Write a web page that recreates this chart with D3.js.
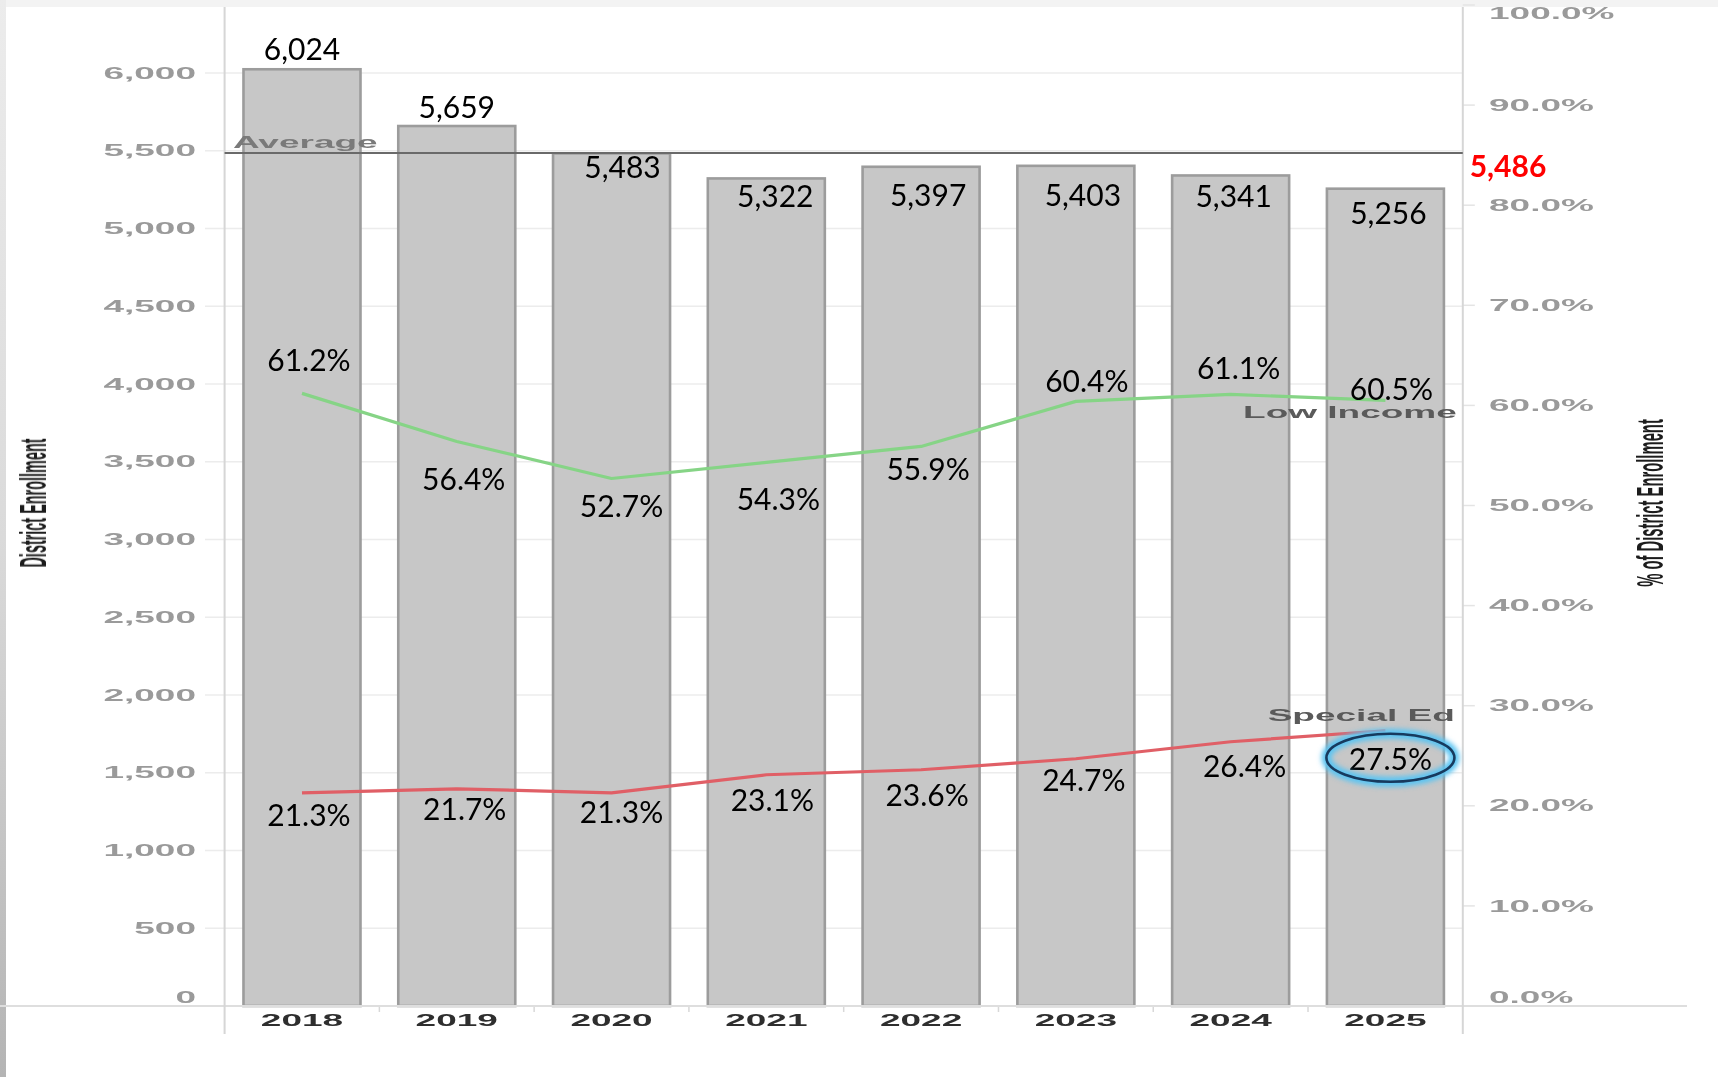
<!DOCTYPE html>
<html>
<head>
<meta charset="utf-8">
<script src="https://cdn.jsdelivr.net/npm/d3@7"></script>
<style>
  html, body { margin: 0; padding: 0; background: #fff; }
  svg { display: block; }
</style>
</head>
<body>
<script>
// ---- data ----
const years = ["2018", "2019", "2020", "2021", "2022", "2023", "2024", "2025"];
const enrollment = [6024, 5659, 5483, 5322, 5397, 5403, 5341, 5256];
const lowIncome = [61.2, 56.4, 52.7, 54.3, 55.9, 60.4, 61.1, 60.5];
const specialEd = [21.3, 21.7, 21.3, 23.1, 23.6, 24.7, 26.4, 27.5];
const averageEnrollment = 5486;
const enrollmentTicks = [0, 500, 1000, 1500, 2000, 2500, 3000, 3500, 4000, 4500, 5000, 5500, 6000];
const percentTicks = [0, 10, 20, 30, 40, 50, 60, 70, 80, 90, 100];

// ---- label nudges (px) relative to each mark ----
const barLabelDx = [0, 0, 11, 9, 7, 7, 3, 3];
const barLabelDy = [-21, -20, 13, 17, 27, 28, 20, 23];
const lowLabelDx = [7, 7, 10, 12, 7, 11, 8, 6];
const lowLabelDy = [-34, 37, 27, 36, 22, -21, -27, -12];
const spedLabelDx = [7, 8, 10, 6, 6, 8, 14, 5];
const spedLabelDy = [21, 19, 18, 24, 24, 20, 23, 27];

const W = 1718, H = 1077;
const plotLeft = 224.6, plotRight = 1462.8, plotBottom = 1006;
const squash = 0.44;           // vertical squash of the chart's own text
const chartFont = "'Liberation Sans', Arial, sans-serif";
const valueFont = "Lato, 'Noto Sans', sans-serif";

const svg = d3.select("body").append("svg").attr("width", W).attr("height", H);

const defs = svg.append("defs");
defs.append("filter").attr("id", "glow").attr("x", "-30%").attr("y", "-60%").attr("width", "160%").attr("height", "220%")
  .append("feGaussianBlur").attr("stdDeviation", 2.6);
defs.append("filter").attr("id", "soft").append("feGaussianBlur").attr("stdDeviation", 0.45);
const edge = defs.append("linearGradient").attr("id", "edge").attr("x1", 0).attr("y1", 0).attr("x2", 0).attr("y2", 1);
edge.append("stop").attr("offset", "0%").attr("stop-color", "#ececec");
edge.append("stop").attr("offset", "50%").attr("stop-color", "#dadada");
edge.append("stop").attr("offset", "100%").attr("stop-color", "#b4b4b4");

// page frame edges
svg.append("rect").attr("x", 0).attr("y", 0).attr("width", W).attr("height", H).attr("fill", "#fff");
svg.append("rect").attr("x", 0).attr("y", 0).attr("width", W).attr("height", 7).attr("fill", "#f3f3f3");
svg.append("rect").attr("x", 0).attr("y", 0).attr("width", 6).attr("height", H).attr("fill", "url(#edge)");

// ---- scales ----
const x = d3.scaleBand().domain(years).range([plotLeft, plotRight]).paddingInner(0.244).paddingOuter(0.122);
const yL = d3.scaleLinear().domain([0, 6000]).range([plotBottom, 73]);
const yR = d3.scaleLinear().domain([0, 100]).range([plotBottom, 5]);

// chart text helper: text drawn squashed vertically
function chartText(g, px, py, str, o = {}) {
  const grp = g.append("g")
    .attr("transform", `translate(${px},${py}) scale(1,${o.k || squash})${o.rotate ? " rotate(-90)" : ""}`);
  return grp.append("text")
    .attr("text-anchor", o.anchor || "middle")
    .attr("dominant-baseline", "central")
    .attr("font-family", chartFont)
    .attr("font-size", o.size || 37)
    .attr("font-weight", o.weight || "normal")
    .attr("fill", o.fill || "#8a8a8a")
    .text(str);
}

const chart = svg.append("g");

// gridlines (left axis)
chart.append("g").selectAll("line").data(enrollmentTicks).join("line")
  .attr("x1", 205).attr("x2", plotRight)
  .attr("y1", d => yL(d)).attr("y2", d => yL(d))
  .attr("stroke", "#ececec").attr("stroke-width", 1.5);

// right axis tick marks
chart.append("g").selectAll("line").data(percentTicks).join("line")
  .attr("x1", plotRight).attr("x2", plotRight + 12)
  .attr("y1", d => yR(d)).attr("y2", d => yR(d))
  .attr("stroke", "#e4e4e4").attr("stroke-width", 1.5);

// category tick marks
chart.append("g").selectAll("line").data(years.slice(1)).join("line")
  .attr("x1", d => x(d) - x.step() * x.paddingInner() / 2)
  .attr("x2", d => x(d) - x.step() * x.paddingInner() / 2)
  .attr("y1", plotBottom).attr("y2", plotBottom + 6)
  .attr("stroke", "#d8d8d8").attr("stroke-width", 1.5);

// bars
chart.append("g").selectAll("rect").data(enrollment).join("rect")
  .attr("x", (d, i) => x(years[i]))
  .attr("width", x.bandwidth())
  .attr("y", d => yL(d))
  .attr("height", d => yL(0) - yL(d))
  .attr("fill", "#c7c7c7")
  .attr("stroke", "#9c9c9c")
  .attr("stroke-width", 2.6);

// baseline and axis lines
chart.append("line").attr("x1", 0).attr("x2", 1687).attr("y1", plotBottom).attr("y2", plotBottom)
  .attr("stroke", "#dedede").attr("stroke-width", 2);
chart.append("line").attr("x1", plotLeft).attr("x2", plotLeft).attr("y1", 7).attr("y2", 1034)
  .attr("stroke", "#d6d6d6").attr("stroke-width", 2);
chart.append("line").attr("x1", plotRight).attr("x2", plotRight).attr("y1", 7).attr("y2", 1034)
  .attr("stroke", "#d6d6d6").attr("stroke-width", 2);

// average reference line
chart.append("line").attr("x1", plotLeft).attr("x2", plotRight)
  .attr("y1", yL(averageEnrollment)).attr("y2", yL(averageEnrollment))
  .attr("stroke", "#6a6a6a").attr("stroke-width", 2);

// percentage lines
const lineGen = d3.line()
  .x((d, i) => x(years[i]) + x.bandwidth() / 2)
  .y(d => yR(d));
chart.append("path").datum(lowIncome).attr("d", lineGen)
  .attr("fill", "none").attr("stroke", "#86d486").attr("stroke-width", 3.2)
  .attr("stroke-linejoin", "round");
chart.append("path").datum(specialEd).attr("d", lineGen)
  .attr("fill", "none").attr("stroke", "#e05f66").attr("stroke-width", 3.2)
  .attr("stroke-linejoin", "round");

// axis labels (chart's own text)
const axisText = svg.append("g").attr("filter", "url(#soft)");
enrollmentTicks.forEach(t => {
  chartText(axisText, 196, t === 0 ? yL(t) - 9 : yL(t), d3.format(",")(t), { anchor: "end", weight: "bold", fill: "#9a9a9a" });
});
percentTicks.forEach(t => {
  const py = t === 100 ? yR(t) + 8 : (t === 0 ? yR(t) - 9 : yR(t));
  chartText(axisText, 1489, py, d3.format(".1f")(t) + "%", { anchor: "start", weight: "bold", fill: "#9a9a9a" });
});
years.forEach(yr => {
  chartText(axisText, x(yr) + x.bandwidth() / 2, 1020, yr, { weight: "bold", fill: "#2e2e2e" });
});
chartText(axisText, 33, 503, "District Enrollment", { rotate: true, k: 0.39, weight: "bold", fill: "#1e1e1e" });
chartText(axisText, 1650, 503, "% of District Enrollment", { rotate: true, k: 0.4, weight: "bold", fill: "#1e1e1e" });

chartText(axisText, 233, yL(averageEnrollment) - 11, "Average", { anchor: "start", fill: "#7a7a7a", weight: "bold" });
const last = years.length - 1;
chartText(axisText, plotRight - 6, yR(lowIncome[last]) + 12, "Low Income", { anchor: "end", fill: "#5a5a5a", weight: "bold" });
chartText(axisText, plotRight - 8, yR(specialEd[last]) - 15, "Special Ed", { anchor: "end", fill: "#5a5a5a", weight: "bold" });

// ---- value labels ----
const labels = svg.append("g")
  .attr("font-family", valueFont).attr("font-size", 30).attr("fill", "#000")
  .attr("text-anchor", "middle").attr("dominant-baseline", "central");

labels.selectAll("text.bar").data(enrollment).join("text").attr("class", "bar")
  .attr("x", (d, i) => x(years[i]) + x.bandwidth() / 2 + barLabelDx[i])
  .attr("y", (d, i) => yL(d) + barLabelDy[i])
  .text(d => d3.format(",")(d));

labels.selectAll("text.low").data(lowIncome).join("text").attr("class", "low")
  .attr("x", (d, i) => x(years[i]) + x.bandwidth() / 2 + lowLabelDx[i])
  .attr("y", (d, i) => yR(d) + lowLabelDy[i])
  .text(d => d.toFixed(1) + "%");

// highlight ring around the latest Special Ed value
const cx = x(years[last]) + x.bandwidth() / 2 + spedLabelDx[last];
const cy = yR(specialEd[last]) + spedLabelDy[last];
svg.append("ellipse").attr("cx", cx).attr("cy", cy).attr("rx", 64).attr("ry", 24)
  .attr("fill", "none").attr("stroke", "#5cc4f2").attr("stroke-width", 10).attr("filter", "url(#glow)");
svg.append("ellipse").attr("cx", cx).attr("cy", cy).attr("rx", 64).attr("ry", 24)
  .attr("fill", "none").attr("stroke", "#173a5e").attr("stroke-width", 2.6);

labels.selectAll("text.sped").data(specialEd).join("text").attr("class", "sped")
  .attr("x", (d, i) => x(years[i]) + x.bandwidth() / 2 + spedLabelDx[i])
  .attr("y", (d, i) => yR(d) + spedLabelDy[i])
  .text(d => d.toFixed(1) + "%");

// average value callout
svg.append("text")
  .attr("x", 1508).attr("y", yL(averageEnrollment) + 12)
  .attr("text-anchor", "middle").attr("dominant-baseline", "central")
  .attr("font-family", valueFont).attr("font-size", 30).attr("font-weight", "bold")
  .attr("fill", "#ff0000")
  .text(d3.format(",")(averageEnrollment));
</script>
</body>
</html>
